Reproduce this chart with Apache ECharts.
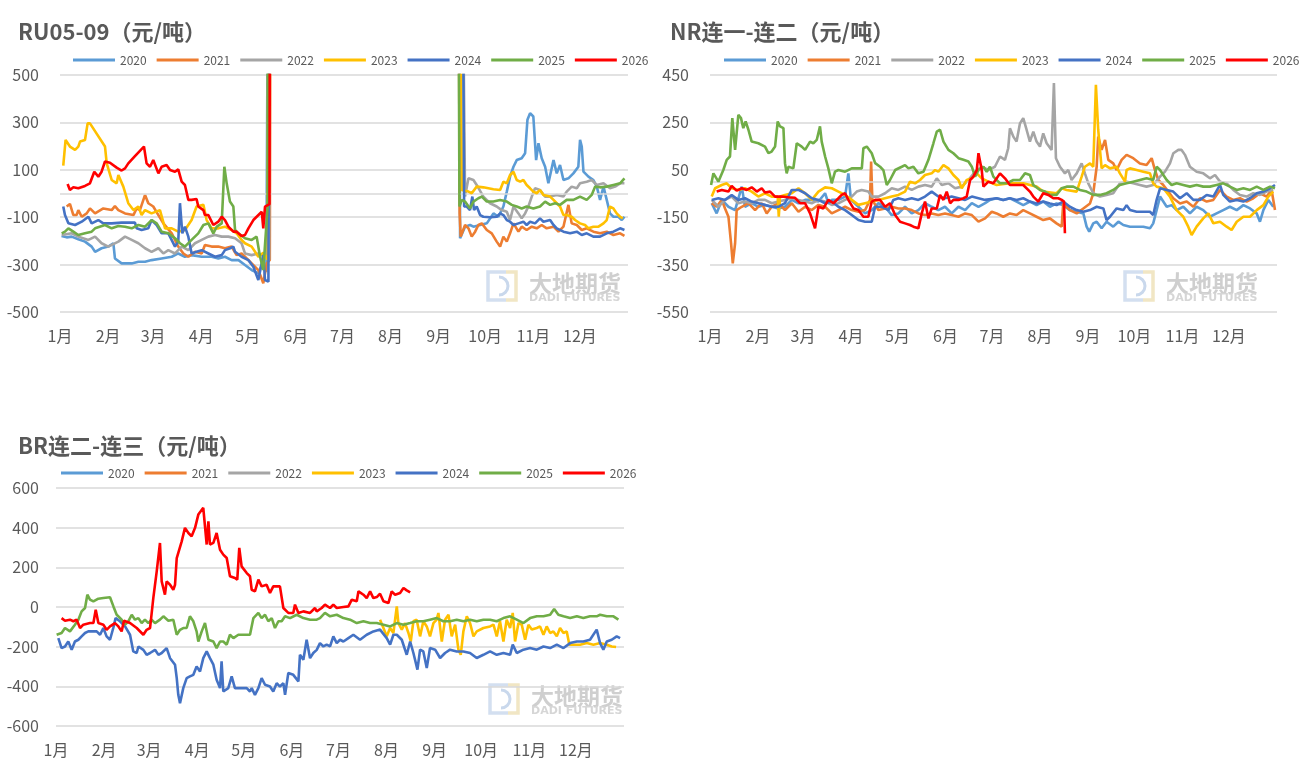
<!DOCTYPE html>
<html>
<head>
<meta charset="utf-8">
<script src="https://cdn.jsdelivr.net/npm/echarts@6/dist/echarts.min.js"></script>
<style>
  html, body { margin: 0; padding: 0; background: #fff; }
  #chart { width: 1301px; height: 769px; }
</style>
</head>
<body>
<div id="chart"></div>
<script>
// x = day of year (leap-year calendar), y = spread in 元/吨
const years = ['2020', '2021', '2022', '2023', '2024', '2025', '2026'];
const monthStarts = [0, 31, 60, 91, 121, 152, 182, 213, 244, 274, 305, 335];
const monthLabels = ['1月', '2月', '3月', '4月', '5月', '6月', '7月', '8月', '9月', '10月', '11月', '12月'];

// ---- RU05-09 ----
const ru2020 = [[1,-179],[4.3,-185],[7.5,-182],[11.8,-193],[16.1,-203],[20.4,-224],[22.6,-246],[26.8,-231],[31.1,-224],[34.4,-210],[35.4,-274],[39.7,-295],[46.2,-295],[50.5,-288],[54.8,-288],[59,-281],[65.5,-274],[72,-267],[76.2,-253],[80.5,-267],[84.8,-260],[91.3,-267],[97.7,-267],[102,-274],[106.3,-267],[110.6,-281],[115,-281],[119.2,-302],[123.5,-323],[127.8,-337],[130,-302],[133,-330],[135.5,3000],
  [256.5,3000],[257.8,-189],[261,-140],[264.2,-133],[266.4,-140],[270.7,-133],[275,-126],[279.3,-84],[282.5,-98],[285.7,-55],[287.9,8],[290,71],[292.2,113],[294.3,141],[297.5,149],[299.7,170],[301.2,311],[302.9,339],[305,325],[306.8,141],[308.3,212],[310.4,149],[312.6,113],[314.7,43],[318,141],[320.1,85],[322.2,120],[324.4,57],[327.6,64],[330.8,85],[334,113],[335.1,226],[336.2,198],[337.3,92],[340.5,71],[343.7,57],[345.9,29],[348,-27],[350.2,29],[352.3,-27],[354.4,-84],[356.6,-98],[359.8,-98],[362,-112],[363.7,-98]];
const ru2021 = [[4.3,-55],[6.4,-44],[8.6,-91],[10.7,-91],[11.8,-70],[14,-98],[17.2,-84],[19.3,-63],[22.6,-84],[27.9,-63],[33.3,-70],[35.4,-53],[37.6,-70],[41.9,-84],[47.3,-91],[49.4,-63],[51.5,-70],[54.8,-6],[56.9,-41],[60.1,-55],[63.4,-91],[66.6,-126],[72,-168],[76.2,-224],[79.5,-253],[82.7,-267],[87,-246],[91.3,-253],[93.4,-217],[97.7,-224],[102,-224],[106.3,-231],[110.6,-224],[113.8,-260],[117,-253],[119.2,-267],[123.5,-295],[127.8,-323],[131,-379],[133.2,-295],[135.2,-280],[136.3,3000],
  [256,3000],[257.5,-84],[258.2,-182],[261,-133],[263.2,-147],[265.3,-182],[267.5,-161],[269.6,-133],[271.8,-126],[275,-154],[278.2,-168],[281.4,-203],[283.6,-224],[285.7,-182],[287.9,-203],[290,-168],[292.2,-126],[295.4,-161],[297.5,-140],[300.7,-154],[304,-140],[307.2,-147],[310.4,-133],[313.6,-147],[318,-140],[321.2,-161],[324.4,-140],[327.6,-48],[329.7,-126],[333,-133],[336.2,-154],[339.4,-147],[343.7,-161],[348,-168],[352.3,-161],[356.6,-175],[360.9,-168],[363.7,-179]];
const ru2022 = [[1.1,-175],[7.5,-168],[11.8,-182],[18.3,-196],[22.6,-182],[26.8,-210],[31.1,-224],[37.6,-203],[41.9,-182],[46.2,-196],[50.5,-210],[54.8,-231],[59,-246],[63.4,-231],[66.6,-253],[69.8,-239],[74.1,-253],[78.4,-224],[82.7,-239],[87,-210],[91.3,-196],[95.6,-182],[99.9,-175],[104.2,-182],[108.5,-182],[112.8,-189],[117,-210],[119.2,-253],[123.5,-260],[127.8,-253],[132.1,-267],[134.8,-280],[136,3000],
  [256.5,3000],[261,-13],[263.2,64],[266.4,57],[268.5,36],[272.8,-13],[277.1,-41],[281.4,-55],[284.6,-70],[287.9,-77],[290,-112],[292.2,-55],[295.4,-84],[297.5,-105],[299.7,-84],[301.8,-55],[304,-13],[306.1,22],[309.3,15],[312.6,-13],[315.8,-13],[320.1,-6],[324.4,-13],[326.5,8],[329.7,29],[333,22],[335.1,43],[339.4,50],[342.6,57],[345.9,36],[350.2,43],[354.4,22],[357.7,29],[360.9,43],[363.7,43]];
const ru2023 = [[2.1,118],[3.6,226],[6.4,198],[9.7,184],[11.8,198],[12.9,219],[16.1,226],[17.8,296],[19.3,296],[29,198],[30.1,127],[33.3,57],[36.5,43],[37.6,78],[40.8,29],[44,-41],[47.3,-70],[50.5,-55],[52.6,-91],[54.8,-70],[59,-84],[64.4,-70],[67.7,-147],[72,-147],[76.2,-161],[80.5,-154],[84.8,-112],[88,-55],[92.4,-48],[94.5,-112],[97.7,-147],[102,-147],[106.3,-140],[110.6,-154],[113.8,-168],[117,-196],[119.2,-210],[123.5,-224],[127.8,-267],[131,-250],[133.8,-280],[134.8,3000],
  [256,3000],[258.9,15],[263.2,8],[265.3,1],[268.5,29],[272.8,26],[279.3,18],[283.6,15],[285.7,50],[287.9,43],[290,78],[292.2,92],[294.3,57],[296.5,50],[298.6,57],[300.7,36],[302.9,22],[305,8],[307.2,1],[309.3,15],[311.5,-6],[315.8,-13],[318,-27],[320.1,-41],[322.2,-55],[324.4,-91],[326.5,-91],[329.7,-98],[331.9,-112],[335.1,-126],[338.3,-133],[340.5,-147],[343.7,-140],[347,-140],[350.2,-126],[352.3,-112],[354.4,-55],[356.6,-63],[358.7,-84],[360.9,-98],[362.6,-105]];
const ru2024 = [[2.1,-55],[3.2,-91],[5.4,-126],[9.7,-133],[14,-119],[18.3,-98],[20.4,-126],[24.7,-112],[27.9,-126],[33.3,-126],[39.7,-123],[48.3,-123],[49.4,-147],[52.6,-154],[56.9,-147],[59,-112],[62.3,-133],[65.5,-168],[69.8,-168],[74.1,-224],[76.2,-203],[77.3,-41],[78.8,-168],[80.5,-140],[82.7,-182],[84.8,-253],[88,-246],[91.3,-239],[95.6,-253],[99.9,-267],[104.2,-260],[106.3,-239],[109.6,-231],[111.7,-224],[112.8,-246],[117,-267],[121.4,-281],[124.6,-309],[127.8,-365],[131,-260],[132.1,-365],[134.3,-372],[135.3,3000],
  [258,3000],[260.4,-55],[262.1,-55],[264.2,-70],[265.7,-13],[266.8,-70],[268.5,-55],[270.7,-91],[272.8,-98],[277.1,-100],[281.4,-98],[283.6,-84],[285.7,-91],[287.9,-112],[290,-119],[292.2,-133],[295.4,-126],[298.6,-119],[300.7,-133],[302.9,-119],[306.1,-126],[309.3,-105],[311.5,-119],[315.8,-112],[318,-133],[320.1,-147],[324.4,-161],[328.7,-168],[333,-161],[336.2,-175],[339.4,-168],[343.7,-182],[348,-182],[352.3,-168],[356.6,-161],[360.9,-147],[363.7,-154]];
const ru2025 = [[1.1,-168],[3.2,-161],[5.4,-147],[8.6,-161],[11.8,-175],[16.1,-168],[20.4,-161],[22.6,-147],[29,-133],[33.3,-147],[37.6,-137],[41.9,-140],[46.2,-147],[50.5,-133],[54.8,-140],[59,-112],[62.3,-126],[65.5,-161],[69.8,-168],[74.1,-189],[77.3,-210],[80.5,-224],[84.8,-196],[89.1,-168],[92.4,-133],[95.6,-126],[98.8,-168],[101,-140],[104.2,-126],[105.9,113],[107.4,43],[109.5,-34],[111.7,-55],[112.8,-154],[114.9,-168],[119.2,-189],[123.5,-196],[126.7,-182],[128.9,-267],[131,-323],[132.1,-217],[133.8,-55],[134.5,3000],
  [255.5,3000],[257.4,-55],[258.9,-27],[261,-34],[264.2,-63],[266.4,-34],[269.6,-20],[271.8,-13],[275,-34],[279.3,-34],[283.6,-27],[287.9,-34],[291.1,-48],[294.3,-55],[297.5,-63],[300.7,-55],[305,-63],[309.3,-55],[312.6,-34],[315.8,-48],[319,-41],[322.2,-48],[326.5,-27],[330.8,-27],[335.1,-13],[339.4,-27],[342.6,-6],[344.8,29],[348,26],[352.3,29],[356.6,36],[360.9,43],[363.7,64]];
const ru2026 = [[4.9,40],[6.4,15],[8.6,26],[11.8,22],[16.1,32],[19.3,43],[22.1,92],[24.7,71],[26.8,92],[29,135],[32.2,130],[36.5,109],[39.7,97],[41.9,106],[44,127],[48.3,158],[54.1,198],[55.8,127],[58,113],[60.1,141],[63.4,85],[65.5,113],[68.7,120],[70.9,99],[74.1,92],[76.2,102],[78.4,50],[80.5,36],[82.7,-27],[84.8,-27],[88,-23],[89.1,-55],[92.4,-70],[93.4,-91],[95.6,-91],[96.7,-98],[98.8,-133],[102,-119],[104.2,-98],[106.3,-112],[108.5,-140],[111.7,-161],[113.8,-161],[117,-179],[119.2,-175],[121.4,-147],[124.6,-112],[130,-77],[131,-147],[132.1,-55],[133.2,-48],[135,-45],[135.8,3000]];

// ---- NR连一-连二 ----
const nr2020 = [[1.1,-91],[4.3,-134],[7.6,-77],[11.9,-106],[16.2,-120],[20.5,-21],[22.6,-106],[26.9,-91],[31.2,-106],[35.5,-98],[39.8,-106],[44.1,-113],[48.4,-106],[52.8,-77],[57.1,-91],[61.4,-77],[65.7,-77],[70,-84],[74.3,-49],[76.4,-91],[78.6,-77],[82.9,-77],[87.2,-63],[89.3,35],[91,-77],[95.8,-106],[100.1,-134],[104.4,-120],[108.7,-91],[113,-106],[117.3,-141],[121.6,-134],[125.9,-106],[130.2,-134],[134.5,-120],[138.8,-91],[143.1,-106],[147.4,-120],[151.7,-106],[156,-134],[160.4,-106],[164.7,-120],[169,-91],[173.3,-106],[177.6,-91],
  [180.7,-77],[185,-70],[189.3,-77],[193.6,-70],[197.9,-84],[202.2,-99],[206.5,-84],[210.8,-99],[215.1,-84],[219.4,-106],[223.7,-92],[228,-99],[232.3,-120],[236.7,-127],[241,-134],[243.1,-190],[244.8,-211],[247.4,-176],[249.6,-169],[252.8,-197],[256,-169],[260.3,-190],[263.6,-169],[266.8,-183],[271.1,-190],[275.4,-190],[279.7,-190],[284,-197],[286.1,-176],[288.3,-120],[290.5,-63],[292.6,-84],[294.8,-106],[298,-99],[301.2,-120],[305.5,-106],[309.8,-134],[314.1,-106],[318.4,-120],[322.7,-148],[327,-134],[331.3,-120],[335.6,-106],[340,-120],[344.3,-99],[348.6,-113],[352.9,-134],[355,-169],[357.2,-120],[360.4,-77],[363.6,-106]];
const nr2021 = [[1.1,-91],[4.3,-106],[7.6,-77],[9.7,-113],[11.9,-148],[13.6,-260],[14.7,-345],[16.2,-260],[17.2,-120],[20.5,-106],[24.8,-91],[29.1,-120],[33.4,-91],[36.6,-134],[39.8,-106],[44.1,-91],[48.4,-120],[52.8,-91],[57.1,-127],[61.4,-106],[65.7,-120],[70,-98],[74.3,-106],[78.6,-134],[82.9,-120],[87.2,-106],[91.5,-120],[95.8,-127],[100.1,-120],[103.3,-77],[104,85],[104.8,-77],[108.7,-120],[113,-113],[117.3,-106],[121.6,-113],[125.9,-113],[130.2,-120],[134.5,-134],[138.8,-141],[143.1,-134],[147.4,-141],[151.7,-134],[156,-141],[160.4,-148],[164.7,-134],[169,-141],[173.3,-169],[177.6,-155],[181.9,-127],
  [185,-134],[189.3,-148],[193.6,-134],[197.9,-141],[202.2,-120],[206.5,-134],[210.8,-148],[215.1,-162],[219.4,-155],[223.7,-176],[227,-190],[228,-92],[232.3,-120],[236.7,-134],[241,-113],[245.3,-92],[247.4,-49],[249.6,63],[250.6,190],[252.8,134],[255,176],[257.1,92],[260.3,77],[262.5,49],[265.7,92],[268.9,113],[273.2,99],[277.5,77],[281.8,70],[285.1,99],[287.2,49],[289.4,7],[292.6,-14],[295.8,-42],[299,-70],[303.4,-92],[307.7,-84],[312,-106],[316.3,-70],[320.6,-84],[324.9,-77],[329.2,-35],[333.5,-63],[337.8,-77],[342.1,-70],[346.4,-84],[350.7,-70],[355,-49],[359.3,-63],[362.5,-35],[364.7,-120]];
const nr2022 = [[1.1,-77],[5.4,-106],[9.7,-77],[14,-63],[18.3,-91],[22.6,-84],[26.9,-91],[31.2,-77],[35.5,-77],[39.8,-91],[44.1,-84],[48.4,-77],[52.8,-70],[57.1,-77],[61.4,-84],[65.7,-91],[70,-77],[74.3,-84],[78.6,-98],[82.9,-91],[87.2,-77],[91.5,-63],[94.7,-42],[97.9,-35],[102.2,-42],[104.4,-63],[108.7,-63],[113,-49],[117.3,-28],[121.6,-35],[125.9,-21],[130.2,-35],[134.5,-21],[138.8,-14],[143.1,-21],[146.4,14],[149.6,-14],[153.9,-7],[158.2,-28],[162.5,-21],[166.8,7],[171.1,42],[175.4,63],[179.7,49],
  [183.9,63],[187.2,106],[190.4,92],[192.5,141],[193.6,225],[195.8,190],[197.9,169],[200.1,246],[202.2,268],[204.4,218],[206.5,169],[208.7,211],[210.8,169],[213,148],[215.1,204],[217.3,162],[220.5,134],[222,416],[223.3,99],[225.9,63],[229.1,35],[231.3,49],[233.4,7],[236.7,35],[239.9,77],[242,35],[244.2,-7],[247.4,-49],[251.7,-63],[256,-56],[260.3,-49],[264.6,-7],[268.9,0],[273.2,-7],[277.5,-14],[281.8,-21],[286.1,-14],[290.5,21],[293.7,42],[296.9,77],[299.1,120],[302.3,134],[304.4,134],[306.6,113],[309.8,63],[314.1,42],[318.4,35],[322.7,14],[326,28],[329.2,0],[333.5,-7],[337.8,-35],[342.1,-56],[346.4,-63],[350.7,-49],[355,-56],[359.3,-42],[363.6,-35]];
const nr2023 = [[1.1,-63],[3.3,-28],[7.6,-14],[10.8,-7],[14,-28],[18.3,-35],[22.6,-28],[26.9,-42],[31.2,-63],[35.5,-49],[39.8,-63],[43.7,-63],[44.4,-148],[45.2,-63],[48.4,-56],[52.8,-49],[57.1,-28],[61.4,-49],[65.7,-77],[70,-42],[74.3,-24],[78.6,-28],[82.9,-42],[87.2,-56],[91.5,-77],[95.8,-98],[100.1,-91],[104.4,-84],[108.7,-77],[113,-70],[117.3,-63],[121.6,-56],[125.9,-42],[129.1,0],[132.4,-7],[135.6,7],[138.8,28],[143.1,35],[145.3,49],[147.4,42],[150.7,70],[153.9,56],[157.1,28],[160.4,7],[162.5,-28],[165.7,7],[169,14],[172.2,35],[175.4,14],[179.7,0],
  [185,-14],[193.6,-7],[202.2,-7],[210.8,-21],[215.1,-42],[223.7,-49],[227,-28],[230.2,-35],[236.7,-42],[239.9,21],[242,63],[245.3,77],[247.4,63],[249.1,409],[250.6,218],[252.8,56],[255,70],[258.2,56],[262.5,63],[264.6,35],[267.9,0],[268.9,49],[271.1,56],[275.4,49],[279.7,42],[284,35],[286.1,-7],[288.3,-21],[292.6,-28],[296.9,-63],[301.2,-120],[305.5,-148],[308.7,-190],[310.9,-225],[314.1,-190],[318.4,-155],[321.7,-134],[324.9,-176],[329.2,-169],[333.5,-190],[336.7,-204],[340,-169],[344.3,-148],[348.6,-148],[352.9,-120],[357.2,-99],[360.4,-63],[363.6,-42]];
const nr2024 = [[1.1,-77],[5.4,-70],[9.7,-77],[14,-56],[18.3,-77],[22.6,-70],[26.9,-84],[31.2,-91],[35.5,-98],[39.8,-106],[44.1,-106],[48.4,-91],[52.8,-35],[57.1,-35],[61.4,-49],[65.7,-70],[70,-77],[74.3,-91],[78.6,-84],[82.9,-106],[87.2,-120],[91.5,-141],[95.8,-162],[100.1,-169],[104.4,-169],[106.6,-106],[110.9,-106],[115.2,-120],[118.4,-77],[121.6,-70],[125.9,-77],[130.2,-70],[134.5,-77],[138.8,-63],[143.1,-42],[147.4,-63],[151.7,-70],[156,-63],[160.4,-70],[164.7,-77],[169,-63],[173.3,-70],[177.6,-77],
  [185,-70],[189.3,-77],[193.6,-70],[197.9,-77],[202.2,-70],[206.5,-84],[210.8,-92],[215.1,-84],[219.4,-92],[223.7,-99],[228,-84],[232.3,-106],[236.7,-120],[241,-127],[245.3,-120],[249.6,-106],[253.9,-113],[256,-162],[258.2,-148],[262.5,-113],[266.8,-120],[268.9,-99],[271.1,-120],[275.4,-127],[279.7,-127],[284,-127],[286.1,-141],[288.3,-77],[290.5,-28],[294.8,-35],[299,-42],[303.4,-70],[307.7,-49],[312,-77],[316.3,-77],[320.6,-56],[324.9,-63],[329.2,-14],[331.3,-56],[335.6,-84],[340,-77],[344.3,-84],[348.6,-70],[352.9,-49],[357.2,-42],[361.5,-28],[364.7,-14]];
const nr2025 = [[0.7,-14],[2.2,35],[5.4,0],[8.6,49],[10.8,92],[12.9,106],[14.4,268],[16.2,134],[17.2,127],[18.3,282],[20,268],[21.5,226],[23,254],[24.8,219],[26.9,169],[31.2,162],[35.5,148],[37.7,120],[39.8,127],[42,148],[43.7,254],[45.2,233],[47.4,226],[48.4,78],[49.5,35],[50.6,63],[53.8,56],[56,162],[59.2,148],[61.4,134],[64.6,169],[66.7,162],[68.9,176],[71,233],[72.1,169],[74.3,106],[76.4,56],[78.6,-7],[80.7,42],[82.9,49],[87.2,42],[91.5,56],[98,56],[99,141],[101.2,148],[104.4,120],[106.6,78],[109.8,63],[111.9,49],[114.1,-14],[116.2,7],[119.5,49],[123.8,63],[125.9,70],[128.1,56],[131.3,63],[134.5,35],[137.8,42],[141,92],[144.2,162],[146.4,211],[148.5,219],[150.7,169],[153.9,134],[157.1,120],[160.4,99],[163.6,92],[166.8,85],[169,63],[171.1,21],[173.3,49],[176.5,63],[178.6,42],
  [180.7,63],[182.9,21],[187.2,-7],[191.5,-7],[195.8,7],[200.1,7],[203.3,35],[206.5,28],[208.7,-14],[213,-35],[216.2,-42],[219.4,-56],[223.7,-56],[227,-28],[230.2,-21],[234.5,-21],[238.8,-35],[243.1,-42],[247.4,-56],[251.7,-56],[256,-49],[260.3,-35],[264.6,-14],[268.9,-7],[273.2,0],[277.5,7],[281.8,14],[286.1,7],[288.3,63],[290.5,49],[294.8,7],[298,-14],[301.2,-7],[305.5,-14],[309.8,-21],[314.1,-14],[318.4,-21],[322.7,-21],[327,-14],[331.3,-7],[335.6,-21],[340,-35],[344.3,-28],[348.6,-35],[352.9,-21],[357.2,-35],[361.5,-21],[364.7,-28]];
const nr2026 = [[4.3,-42],[7.6,-35],[11.9,-42],[14,-18],[17.2,-38],[20.5,-28],[23.7,-35],[26.9,-24],[30.2,-42],[33.4,-28],[35.5,-46],[38.8,-42],[42,-63],[46.3,-63],[50.6,-66],[54.9,-68],[58.1,-91],[61.4,-91],[64.6,-134],[67.8,-197],[70,-106],[73.2,-113],[76.4,-77],[79.7,-91],[82.9,-70],[85,-56],[87.2,-49],[89.3,-77],[92.6,-113],[95.8,-120],[99,-148],[102.2,-148],[104.4,-84],[106.6,-77],[109.8,-77],[113,-106],[116.2,-91],[119.5,-141],[122.7,-169],[125.9,-176],[129.1,-183],[131.3,-190],[134.5,-197],[136.7,-134],[138.8,-84],[141,-155],[143.1,-113],[146.4,-113],[148.5,-56],[150.7,-77],[152.8,-42],[155,-91],[157.1,-77],[160.4,-77],[163.6,-70],[165.7,-63],[167.9,7],[170,21],[172.2,49],[173.3,120],[175.4,49],[176.5,-21],[179.7,0],
  [182.9,-7],[187.2,35],[190.4,14],[193.6,-14],[197.9,-14],[202.2,-14],[206.5,-42],[208.7,-63],[211.9,-84],[215.1,-49],[218.4,-56],[221.6,-70],[224.8,-70],[227,-77],[228.5,-84],[229.1,-218]];

// ---- BR连二-连三 ----
const br2023 = [[208.8,-64],[211,-106],[213.1,-148],[215.3,-106],[217.4,-131],[219.6,3],[220.6,-81],[222.8,-114],[224.9,-81],[227.1,-131],[228.6,-174],[230.3,-72],[232.4,-64],[234.6,-148],[236.7,-72],[238.9,-98],[241,-148],[243.2,-81],[245.3,-64],[246.4,-30],[248.6,-174],[250.7,-64],[252.9,-39],[255,-148],[257.2,-89],[259.3,-215],[260.8,-241],[262.5,-123],[264.7,-47],[266.8,-81],[269,-148],[271.1,-123],[275.4,-106],[279.7,-98],[281.9,-89],[284,-148],[286.1,-72],[288.3,-174],[290.4,-64],[292.6,-106],[294.3,-30],[295.8,-174],[298,-81],[300.1,-89],[302.3,-165],[304.4,-89],[306.6,-114],[309.8,-106],[311.9,-98],[314.1,-140],[316.2,-98],[318.4,-131],[320.5,-123],[322.7,-148],[324.8,-106],[327,-131],[329.1,-123],[330.8,-190],[333.4,-190],[337.7,-190],[342,-182],[346.3,-190],[350.6,-182],[354.9,-190],[358.1,-199],[360.9,-202]];
const br2024 = [[1.5,-157],[3.6,-207],[5.8,-199],[7.9,-174],[10.1,-216],[12.2,-174],[14.4,-165],[16.5,-148],[18.7,-131],[20.8,-123],[24.1,-123],[26.2,-123],[28.4,-140],[30.5,-106],[32.6,-148],[34.8,-165],[36.9,-106],[38.4,-56],[41.2,-72],[44.5,-98],[47.7,-140],[49.8,-224],[52,-232],[53.1,-199],[56.3,-216],[58.4,-241],[60.6,-232],[63.8,-216],[66,-241],[68.1,-232],[71.3,-207],[73.5,-258],[76.7,-291],[77.8,-359],[78.8,-443],[79.9,-485],[82,-409],[84.2,-359],[86.3,-350],[88.5,-342],[90.6,-300],[92.8,-325],[94.9,-258],[97.1,-224],[99.2,-258],[101.4,-291],[103.5,-367],[105.7,-409],[106.7,-274],[107.8,-426],[111,-409],[113.2,-350],[115.3,-409],[118.6,-409],[122.9,-409],[125,-426],[126.1,-409],[128.2,-443],[130.4,-409],[132.5,-359],[134.7,-392],[137.9,-401],[140,-426],[142.2,-384],[144.3,-401],[146.5,-384],[147.6,-443],[149.7,-333],[152.9,-342],[156.2,-375],[157.2,-241],[159.4,-266],[161.5,-165],[163.7,-258],[165.8,-232],[168,-216],[170.1,-182],[172.3,-199],[174.4,-190],
  [176.6,-199],[178.7,-148],[180.9,-182],[183,-165],[185.2,-174],[188.4,-157],[191.6,-140],[195.9,-165],[200.2,-140],[204.5,-123],[208.8,-114],[213.1,-157],[215.3,-190],[217.4,-140],[219.6,-140],[222.8,-165],[226,-241],[228.2,-174],[230.3,-232],[232.9,-316],[234.6,-215],[236.7,-224],[238.9,-308],[241,-207],[244.3,-215],[247.5,-257],[250.7,-232],[253.9,-215],[258.2,-224],[262.5,-224],[266.8,-232],[271.1,-257],[275.4,-241],[279.7,-224],[284,-241],[288.3,-232],[292.6,-241],[294.3,-190],[296.9,-232],[301.2,-215],[305.5,-207],[309.8,-215],[314.1,-199],[318.4,-207],[322.7,-190],[327,-207],[331.3,-182],[335.6,-174],[339.8,-174],[344.1,-165],[348.4,-114],[350.6,-182],[352.7,-215],[354.9,-174],[358.1,-165],[361.3,-148],[363.5,-157]];
const br2025 = [[0.4,-140],[3.6,-131],[5.8,-106],[9,-123],[12.2,-89],[14.4,-64],[16.5,-22],[18.7,-5],[20.2,62],[21.9,37],[24.1,28],[27.3,42],[30.5,45],[34.8,49],[37,3],[39.1,-39],[42.3,-64],[44.5,-89],[46.6,-72],[48.8,-39],[50.9,-64],[53.1,-56],[55.2,-81],[57.3,-64],[59.5,-81],[61.6,-64],[63.8,-81],[67,-64],[69.2,-47],[72.4,-69],[75.6,-64],[77.8,-140],[79.9,-115],[82,-106],[84.2,-106],[86.3,-47],[88.5,-72],[90.6,-123],[91.7,-174],[93.9,-123],[96,-81],[98.2,-165],[101.4,-174],[103.5,-207],[105.7,-174],[107.8,-174],[110,-190],[112.1,-140],[114.3,-157],[117.5,-140],[120.7,-140],[125,-140],[127.2,-56],[130.4,-30],[132.5,-56],[134.7,-39],[136.8,-72],[139,-56],[141.1,-106],[143.3,-72],[145.4,-72],[147.6,-47],[150.8,-56],[155.1,-39],[159.4,-56],[163.7,-64],[168,-64],[170.1,-56],[173.3,-30],[176.6,-47],
  [180.9,-39],[185.2,-56],[189.5,-64],[193.8,-81],[198.1,-72],[202.4,-81],[206.7,-81],[211,-89],[215.3,-98],[219.6,-81],[223.9,-89],[228.2,-81],[232.4,-72],[236.7,-72],[241,-64],[245.3,-56],[249.6,-72],[253.9,-72],[258.2,-64],[262.5,-72],[266.8,-64],[271.1,-72],[275.4,-64],[279.7,-64],[284,-72],[288.3,-56],[292.6,-47],[296.9,-64],[301.2,-81],[305.5,-56],[309.8,-47],[314.1,-47],[318.4,-39],[321,-10],[323.7,-39],[327,-47],[331.3,-56],[335.6,-47],[339.8,-56],[344.1,-47],[348.4,-47],[350.6,-39],[354.9,-47],[359.2,-47],[362.4,-64]];
const br2026 = [[3.6,-56],[4.7,-47],[5.8,-69],[9,-64],[11.2,-72],[13.3,-64],[15.5,-106],[17.6,-89],[21.9,-81],[24.1,-81],[25.6,-14],[27.3,-81],[30.5,-89],[32.6,-115],[34.8,-98],[38,-81],[40.2,-98],[42.3,-123],[43.8,-69],[47.7,-81],[52,-106],[56.3,-140],[58.4,-115],[60.6,-106],[62.7,45],[64.9,180],[67,323],[68.1,129],[70.2,62],[71.3,129],[73.5,112],[75.6,87],[76.7,112],[77.8,247],[81,331],[83.1,399],[85.3,373],[87.4,357],[89.6,399],[91.7,466],[94.9,500],[96,508],[97.1,315],[98.2,432],[99.2,315],[101.4,323],[103.5,373],[105.7,289],[107.8,264],[110,247],[112.1,155],[115.3,146],[116.8,138],[118.1,298],[119.6,205],[122.9,171],[125,155],[126.1,87],[128.2,79],[130.4,138],[132.5,104],[135.7,112],[137.9,71],[140,104],[144.3,104],[146.5,-5],[149.7,-30],[152.9,-30],[154,12],[156.2,-30],[159.4,-22],[163.7,-30],[166.9,-5],[168,-22],[171.2,-5],[173.3,12],[176.6,-5],[178.7,12],
  [180.9,-5],[185.2,0],[188.4,3],[190.6,37],[193.8,29],[194.9,79],[198.1,62],[200.2,45],[202.4,79],[204.5,45],[206.7,50],[208.8,67],[211,29],[214.2,20],[216.3,79],[218.5,62],[221.7,71],[223.9,96],[226,84],[228.2,74]];

const colors = {
  '2020': '#5B9BD5', '2021': '#ED7D31', '2022': '#A5A5A5', '2023': '#FFC000',
  '2024': '#4472C4', '2025': '#70AD47', '2026': '#FF0000'
};
const FONT = '"Noto Sans CJK SC", "Noto Sans", sans-serif';
const TXT = '#595959';

const panels = [
  { title: 'RU05-09（元/吨）', tx: 18, ty: 21, grid: { left: 60, width: 568, top: 75, height: 237 }, yMin: -500, yMax: 500, zeroLine: true, legendX: 73, legendY: 54, labelMargin: 21,
    data: { '2020': ru2020, '2021': ru2021, '2022': ru2022, '2023': ru2023, '2024': ru2024, '2025': ru2025, '2026': ru2026 }, mark: [486, 270] },
  { title: 'NR连一-连二（元/吨）', tx: 670, ty: 21, grid: { left: 710, width: 567, top: 75, height: 237 }, yMin: -550, yMax: 450, zeroLine: true, legendX: 724, legendY: 54, labelMargin: 21,
    data: { '2020': nr2020, '2021': nr2021, '2022': nr2022, '2023': nr2023, '2024': nr2024, '2025': nr2025, '2026': nr2026 }, mark: [1123, 270] },
  { title: 'BR连二-连三（元/吨）', tx: 18, ty: 435, grid: { left: 56, width: 568, top: 488, height: 238 }, yMin: -600, yMax: 600, zeroLine: false, legendX: 61, legendY: 467, labelMargin: 17,
    data: { '2020': [], '2021': [], '2022': [], '2023': br2023, '2024': br2024, '2025': br2025, '2026': br2026 }, mark: [488, 683] }
];

const option = {
  backgroundColor: '#fff',
  animation: false,
  title: [], legend: [], grid: [], xAxis: [], yAxis: [], series: [], graphic: []
};

panels.forEach((p, i) => {
  option.title.push({
    text: p.title, left: p.tx, top: p.ty, padding: 0,
    textStyle: { fontFamily: FONT, fontSize: 22, fontWeight: 'bold', color: TXT }
  });
  option.legend.push({
    data: years, left: p.legendX, top: p.legendY, padding: 0,
    icon: 'rect', itemWidth: 42, itemHeight: 3, itemGap: 10,
    textStyle: { fontFamily: FONT, fontSize: 12, color: TXT }
  });
  option.grid.push(Object.assign({ containLabel: false }, p.grid));
  option.xAxis.push({
    type: 'value', gridIndex: i, min: 0, max: 366,
    axisLine: { show: false }, axisTick: { show: false }, splitLine: { show: false },
    axisLabel: {
      customValues: monthStarts, margin: 16,
      fontFamily: FONT, fontSize: 16, color: TXT,
      formatter: v => monthLabels[monthStarts.indexOf(v)] || ''
    }
  });
  option.yAxis.push({
    type: 'value', gridIndex: i, min: p.yMin, max: p.yMax, interval: 200,
    axisLine: { show: false }, axisTick: { show: false },
    splitLine: { lineStyle: { color: '#d9d9d9', width: 1.5 } },
    axisLabel: { margin: p.labelMargin, fontFamily: FONT, fontSize: 16, color: TXT }
  });
  years.forEach((y, k) => {
    const s = {
      name: y, type: 'line', xAxisIndex: i, yAxisIndex: i,
      data: p.data[y], showSymbol: false, symbol: 'none',
      lineStyle: { color: colors[y], width: 2.6 },
      itemStyle: { color: colors[y] },
      z: 2 + k
    };
    if (k === 0 && p.zeroLine) {
      s.markLine = {
        silent: true, symbol: 'none', label: { show: false },
        lineStyle: { color: '#d9d9d9', type: 'solid', width: 1.5 },
        data: [{ yAxis: 0 }]
      };
    }
    option.series.push(s);
  });
  // watermark
  option.graphic.push({
    type: 'group', x: p.mark[0], y: p.mark[1], silent: true, z: 0,
    children: [
      { type: 'polyline', shape: { points: [[20, 2], [2, 2], [2, 30], [20, 30]] }, style: { fill: 'none', stroke: '#d3dff0', lineWidth: 3.5 } },
      { type: 'polyline', shape: { points: [[20, 2], [30, 2], [30, 30], [20, 30]] }, style: { fill: 'none', stroke: '#f1e6c4', lineWidth: 3.5 } },
      { type: 'arc', shape: { cx: 13, cy: 16, r: 9, startAngle: -Math.PI / 2, endAngle: Math.PI / 2 }, style: { fill: 'none', stroke: '#c9d8ec', lineWidth: 3 } },
      { type: 'text', x: 43, y: 2, style: { text: '大地期货', font: 'bold 23px "Noto Sans CJK SC"', fill: '#cfcfcf' } },
      { type: 'text', x: 43, y: 23, style: { text: 'DADI FUTURES', font: 'bold 11px "DejaVu Sans"', fill: '#d6d6d6' } }
    ]
  });
});

const chart = echarts.init(document.getElementById('chart'));
chart.setOption(option);
</script>
</body>
</html>
